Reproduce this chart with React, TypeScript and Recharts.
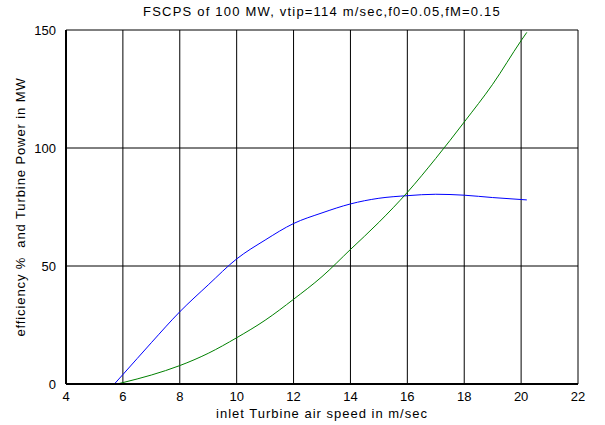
import { CartesianGrid, Line, LineChart, XAxis, YAxis } from "recharts"

const xTicks = [4, 6, 8, 10, 12, 14, 16, 18, 20, 22]
const yTicks = [0, 50, 100, 150]

// efficiency % (blue)
const efficiencySpeed = [5.7, 6, 7, 8, 9, 10, 11, 12, 13, 14, 15, 16, 17, 18, 19, 20.2]
const efficiencyValue = [0, 4, 17.5, 30.6, 42, 53, 61, 68, 72.5, 76.3, 78.7, 79.8, 80.4, 80, 79, 78]

// turbine power MW (green)
const powerSpeed = [5.8, 6, 7, 8, 9, 10, 11, 12, 13, 14, 15, 16, 17, 18, 19, 20, 20.2]
const powerValue = [0, 0.6, 3.8, 7.8, 13, 19.6, 27, 35.9, 45.5, 57, 68.5, 81.2, 95.6, 111, 127, 145.5, 149]

const efficiencyData = efficiencySpeed.map((v, i) => ({ v, y: efficiencyValue[i] }))
const powerData = powerSpeed.map((v, i) => ({ v, y: powerValue[i] }))

const font = "'Liberation Sans', Arial, sans-serif"

export default function App() {
  return (
    <div style={{ position: "absolute", left: 0, top: 0, width: 605, height: 425, background: "#fff", fontFamily: font }}>
      <div
        style={{
          position: "absolute",
          left: 66,
          width: 512,
          top: 4,
          textAlign: "center",
          fontSize: 13,
          letterSpacing: 1.2,
          color: "#000",
        }}
      >
        FSCPS of 100 MW, vtip=114 m/sec,f0=0.05,fM=0.15
      </div>
      <LineChart width={605} height={425} margin={{ top: 30, right: 27, left: 0, bottom: 0 }}>
        <CartesianGrid stroke="#000" strokeWidth={1} />
        <XAxis
          type="number"
          dataKey="v"
          domain={[4, 22]}
          ticks={xTicks}
          height={41}
          tickLine={false}
          axisLine={{ stroke: "#000", strokeWidth: 2 }}
          tick={{ fontSize: 13, fill: "#000", fontFamily: font }}
          tickMargin={2}
          label={{
            value: "inlet Turbine air speed in m/sec",
            position: "insideBottom",
            offset: 7,
            fontSize: 13,
            fill: "#000",
            fontFamily: font,
            style: { letterSpacing: 1 },
          }}
          allowDataOverflow
        />
        <YAxis
          type="number"
          domain={[0, 150]}
          ticks={yTicks}
          width={66}
          tickLine={false}
          axisLine={{ stroke: "#000", strokeWidth: 2 }}
          tick={{ fontSize: 13, fill: "#000", fontFamily: font }}
          tickMargin={4}
          label={{
            value: "efficiency %\u00a0 and Turbine Power in MW",
            angle: -90,
            position: "insideLeft",
            offset: 20,
            style: { textAnchor: "middle", letterSpacing: 0.9 },
            fontSize: 13,
            fill: "#000",
            fontFamily: font,
          }}
        />
        <Line data={efficiencyData} dataKey="y" type="monotone" stroke="#0000ff" strokeWidth={1} dot={false} isAnimationActive={false} />
        <Line data={powerData} dataKey="y" type="monotone" stroke="#008000" strokeWidth={1} dot={false} isAnimationActive={false} />
      </LineChart>
    </div>
  )
}
